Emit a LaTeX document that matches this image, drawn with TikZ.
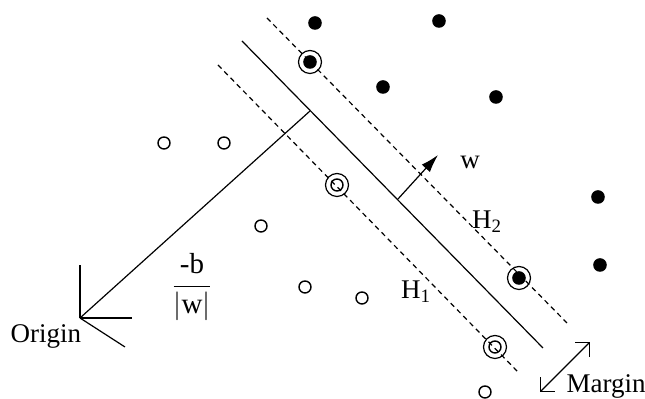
\documentclass[tikz,border=0pt]{standalone}
\usepackage{amsmath}
\usepackage{fontspec}
\setmainfont{Liberation Serif}
\usetikzlibrary{arrows.meta,positioning}

\begin{document}
\begin{tikzpicture}[
    x=0.5pt, y=-0.5pt,
    line width=0.6pt,
    plane/.style={line width=0.6pt},
    margin/.style={line width=0.6pt, dash pattern=on 2.5pt off 2pt},
    posdot/.style={circle, fill, inner sep=0pt, minimum size=6.8pt},
    negdot/.style={circle, draw, line width=0.7pt, inner sep=0pt, minimum size=6pt},
    sv/.style={circle, draw, line width=0.6pt, inner sep=0pt, minimum size=11.5pt},
    lbl/.style={font=\fontsize{13.5}{16}\selectfont, inner sep=0pt}
]
\useasboundingbox (0,0) rectangle (645,399);

% class +1
\node[posdot] (a1) at (315,23) {};
\node[posdot] (a2) at (439,21) {};
\node[posdot] (a3) at (383,87) {};
\node[posdot] (a4) at (496,97) {};
\node[posdot] (a5) at (598,197) {};
\node[posdot] (a6) at (600,265) {};
\node[posdot] (s1) at (310,62) {};
\node[posdot] (s2) at (519,278) {};
\node[sv] at (s1) {};
\node[sv] at (s2) {};

% class -1
\node[negdot] (b1) at (164,143) {};
\node[negdot] (b2) at (224,143) {};
\node[negdot] (b3) at (261,226) {};
\node[negdot] (b4) at (305,287) {};
\node[negdot] (b5) at (362,298) {};
\node[negdot] (b6) at (485,392) {};
\node[negdot] (t1) at (337,185) {};
\node[negdot] (t2) at (495,347) {};
\node[sv] at (t1) {};
\node[sv] at (t2) {};

% hyperplanes
\coordinate (h0) at (242,41);
\coordinate (h0e) at (543,348);
\coordinate (h2) at (267,18);
\coordinate (h2e) at (567,323);
\coordinate (h1) at (218,65);
\coordinate (h1e) at (518,372);
\draw[plane] (h0) -- (h0e);
\draw[margin] (h2) -- (h2e);
\draw[margin] (h1) -- (h1e);

% origin and offset
\coordinate (o) at (80,318);
\coordinate (ft) at (310,111);
\draw (o) -- (80,265);
\draw (o) -- (132,318);
\draw (o) -- (125,347);
\draw (o) -- (ft);
\node[lbl, anchor=base west] (orig) at (10,343) {Origin};
\node[lbl, font=\fontsize{14.5}{17}\selectfont] (frac) at (192,287) {$\dfrac{\textrm{-b}}{|\textrm{w}|}$};

% normal vector
\coordinate (wb) at (398,199);
\coordinate (wt) at (438,155);
\draw[-{Latex[length=9pt,width=5.5pt]}] (wb) -- (wt);
\node[lbl] (w) at (470,162) {w};

\node[lbl] (lh2) at (487,222) {H\textsubscript{2}};
\node[lbl] (lh1) at (416,292) {H\textsubscript{1}};

% margin
\coordinate (m1) at (540,392);
\coordinate (m2) at (590,342);
\draw[{Straight Barb[length=5pt]}-{Straight Barb[length=5pt]}] (m1) -- (m2);
\node[lbl, anchor=base west] (mg) at (566,393) {Margin};
\end{tikzpicture}
\end{document}
